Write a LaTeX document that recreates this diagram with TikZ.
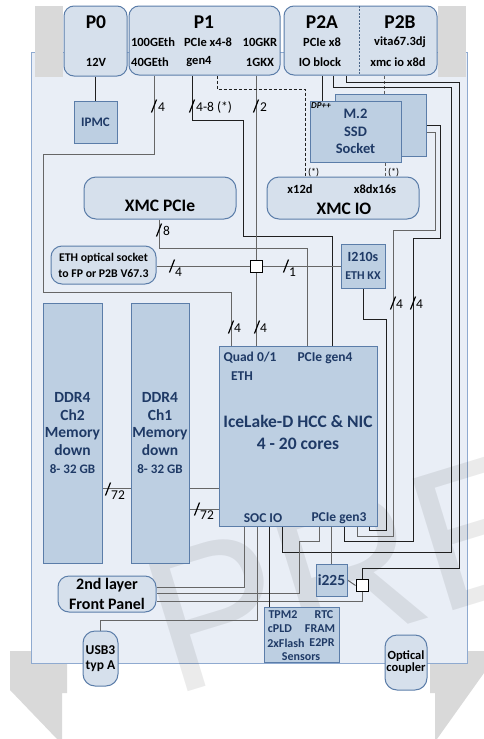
\documentclass[tikz,border=0pt]{standalone}
\usepackage{fontspec}
\setmainfont{Carlito}
\newfontfamily\wmfont{Liberation Sans}
\usetikzlibrary{calc,backgrounds}

\definecolor{boardfill}{HTML}{E9EEF6}
\definecolor{boardline}{HTML}{8FAAD0}
\definecolor{connfill}{HTML}{D6E0EC}
\definecolor{connline}{HTML}{5B7DA9}
\definecolor{chipfill}{HTML}{BDCFE2}
\definecolor{navy}{HTML}{1F3A66}
\definecolor{handle}{HTML}{D9D9D9}

\pgfdeclarelayer{wires}
\pgfsetlayers{background,wires,main}

\begin{document}
\begin{tikzpicture}[x=1pt, y=-1pt,
  conn/.style={draw=connline, fill=connfill, line width=1pt, rounded corners=10pt, inner sep=0pt},
  soft/.style={conn, rounded corners=12pt, align=center, font=\bfseries\fontsize{12}{14}\selectfont},
  chip/.style={draw=connline, fill=chipfill, line width=1pt, inner sep=0pt, text=navy, align=center, font=\bfseries\fontsize{13}{17.5}\selectfont},
  big/.style={inner sep=0pt, font=\bfseries\fontsize{19.5}{20}\selectfont},
  txt/.style={inner sep=0pt, font=\bfseries\fontsize{12.5}{14}\selectfont},
  ntxt/.style={txt, text=navy, font=\bfseries\fontsize{13.5}{14}\selectfont},
  tptxt/.style={txt, text=navy, font=\bfseries\fontsize{12}{13}\selectfont},
  lbl/.style={inner sep=0pt, font=\fontsize{13.5}{14}\selectfont},
  wire/.style={draw=black!88, line width=0.95pt},
  wireg/.style={draw=black!60, line width=0.95pt},
  dwire/.style={wire, dash pattern=on 3pt off 2pt},
  bus/.pic={\draw[line width=1.2pt] (-2.5,6.5) -- (2.5,-6.5);}
]
\useasboundingbox (0,0) rectangle (484,739);

% board and handles
\begin{scope}[on background layer]
  \fill[handle] (10,651) -- (67,651) -- (67,693) -- (62,693) -- (62,739) -- (57,739) -- (10,690) -- cycle;
  \fill[handle] (430,651) -- (484,651) -- (484,673) -- (437,739) -- (435,739) -- (435,693) -- (430,693) -- cycle;
  \node[draw=boardline, fill=boardfill, line width=1pt, minimum width=436pt, minimum height=611pt] (board) at (249,357.5) {};
  \fill[handle] (35,6) rectangle (63,77);
  \fill[handle] (438,6) rectangle (466,77);
\end{scope}

% watermark
\begin{pgfonlayer}{wires}
  \begin{scope}
    \clip (0,0) rectangle (484,739);
    \node[rotate=17, text=black, opacity=0.08, inner sep=0pt, anchor=base west, font=\wmfont\fontsize{200}{200}\selectfont] (wm) at (172,697) {PREVIEW};
  \end{scope}
\end{pgfonlayer}

% connectors P0 / P1 / P2
\node[conn, minimum width=63pt, minimum height=70pt] (p0) at (95.5,41) {};
\node[conn, minimum width=151pt, minimum height=69pt] (p1) at (204.5,40.5) {};
\node[conn, minimum width=153pt, minimum height=69pt] (p2) at (360.5,40.5) {};
\draw[connline!80!black, dash pattern=on 2pt off 1.5pt, line width=0.8pt] (p2.north -| 359,0) -- (p2.south -| 359,0);

\node[big] (p0t) at (96,22) {P0};
\node[txt] (p0v) at (96,62) {12V};
\node[big] (p1t) at (204,22) {P1};
\node[txt] (p1a) at (153,42) {100GEth};
\node[txt] (p1b) at (208,42) {PCIe x4-8};
\node[txt] (p1c) at (260,42) {10GKR};
\node[txt] (p1d) at (150,62) {40GEth};
\node[txt] (p1e) at (199,62) {gen4};
\node[txt] (p1f) at (260,62) {1GKX};
\node[big] (p2at) at (322,22) {P2A};
\node[txt] (p2a1) at (322,42) {PCIe x8};
\node[txt] (p2a2) at (320,62) {IO block};
\node[big] (p2bt) at (400,22) {P2B};
\node[txt] (p2b1) at (400,42) {vita67.3dj};
\node[txt] (p2b2) at (398,62) {xmc io x8d};

% blocks
\node[chip, minimum width=43pt, minimum height=42pt] (ipmc) at (95.5,122) {IPMC};
\node[soft, minimum width=152pt, minimum height=42pt] (xpci) at (160,198) {};
\node[txt, font=\bfseries\fontsize{17.5}{18}\selectfont] (xpcit) at (160,206) {XMC PCIe};
\node[soft, minimum width=152pt, minimum height=42pt] (xio) at (343,198) {};
\node[txt] (xio1) at (300,189) {x12d};
\node[txt] (xio2) at (375,189) {x8dx16s};
\node[txt, font=\bfseries\fontsize{17.5}{18}\selectfont] (xio3) at (344,209) {XMC IO};
\node[chip, minimum width=91pt, minimum height=62pt] (m2b) at (380.5,125) {};
\node[chip, minimum width=91pt, minimum height=61pt, font=\bfseries\fontsize{14.5}{17.5}\selectfont] (m2) at (355.5,131.5) {M.2\\SSD\\Socket};
\node[inner sep=0pt, font=\bfseries\itshape\fontsize{9}{10}\selectfont, anchor=north west] (dp) at (311,102) {DP++};
\node[soft, minimum width=105pt, minimum height=38pt, rounded corners=11pt, font=\bfseries\fontsize{11.8}{16}\selectfont] (eth) at (103.5,265) {ETH optical socket\\to FP or P2B V67.3};
\node[draw=black, fill=white, line width=1pt, minimum size=12pt, inner sep=0pt] (jn) at (256,266) {};
\node[chip, minimum width=44pt, minimum height=44pt, font=\bfseries\fontsize{14}{18}\selectfont] (i210) at (363,266) {I210s\\{\fontsize{12}{14}\selectfont ETH KX}};
\node[chip, minimum width=59pt, minimum height=260pt, font=\bfseries\fontsize{15.5}{17.7}\selectfont] (ddr2) at (72.5,433) {DDR4\\Ch2\\Memory\\down\\{\fontsize{13}{17.7}\selectfont 8- 32 GB}};
\node[chip, minimum width=58pt, minimum height=260pt, font=\bfseries\fontsize{15.5}{17.7}\selectfont] (ddr1) at (160,433) {DDR4\\Ch1\\Memory\\down\\{\fontsize{13}{17.7}\selectfont 8- 32 GB}};
\node[chip, minimum width=158pt, minimum height=180pt] (ice) at (298,436) {};
\node[ntxt] (iq) at (250,358) {Quad 0/1};
\node[ntxt] (ie) at (242,376) {ETH};
\node[ntxt] (ig4) at (325,358) {PCIe gen4};
\node[ntxt, font=\bfseries\fontsize{17.5}{21.5}\selectfont, align=center] (icl) at (298,432.5) {IceLake-D HCC \& NIC\\4 - 20 cores};
\node[ntxt] (isoc) at (263,518) {SOC IO};
\node[ntxt] (ig3) at (339,518) {PCIe gen3};
\node[soft, minimum width=98pt, minimum height=36pt, rounded corners=11pt, font=\bfseries\fontsize{16}{20}\selectfont] (fp) at (107,594) {2nd layer\\Front Panel};
\node[soft, minimum width=35pt, minimum height=55pt, font=\bfseries\fontsize{13.5}{15}\selectfont] (usb) at (100.5,658.5) {USB3\\typ A};
\node[chip, minimum width=31pt, minimum height=32pt, font=\bfseries\fontsize{15.5}{17}\selectfont] (i225) at (331.5,580) {i225};
\node[draw=black, fill=white, line width=1pt, minimum size=12pt, inner sep=0pt] (sq) at (362,585.5) {};
\node[chip, minimum width=75pt, minimum height=55pt] (tpm) at (301.5,634.5) {};
\node[tptxt] (tp1) at (283,615) {TPM2};
\node[tptxt] (tp2) at (324,615) {RTC};
\node[tptxt] (tp3) at (280,629) {cPLD};
\node[tptxt] (tp4) at (320,629) {FRAM};
\node[tptxt] (tp5) at (286,643) {2xFlash};
\node[tptxt] (tp6) at (322,643) {E2PR};
\node[tptxt] (tp7) at (301,657) {Sensors};
\node[soft, minimum width=42pt, minimum height=55pt, font=\bfseries\fontsize{12.5}{12}\selectfont] (opt) at (406,662.5) {Optical\\coupler};

% wires
\begin{pgfonlayer}{wires}
  \draw[wire] (p0.south) -- (ipmc.north);
  \draw[wireg] (154,0 |- p1.south) |- (43,154) |- (231,292) -- (231,0 |- ice.north);
  \draw[wire] (192,0 |- p1.south) |- (243,120) |- (332,236) -- (332,0 |- ice.north);
  \draw[wireg] (jn |- p1.south) -- (jn |- ice.north);
  \draw[dwire] (217,0 |- p1.south) |- (305,89) -- (305,0 |- xio.north);
  \draw[wireg] (159,0 |- xpci.south) |- (307,248) -- (307,0 |- ice.north);
  \draw[wireg] (eth.east |- jn) -- (i210.west |- jn);
  \draw[wire] (322,0 |- p2.south) -- (322,0 |- m2.north);
  \draw[dwire, draw=black!65] (384,0 |- p2.south) -- (384,0 |- m2b.north);
  \draw[dwire, draw=black!65] (385,0 |- m2.south) -- (385,0 |- xio.north);
  \draw[wire] (333,0 |- p2.south) |- (451,87) |- (282,552) -- (282,0 |- ice.south);
  \draw[wire] (346,0 |- p2.south) |- (459,82) |- (sq.north |- 0,568) -- (sq.north);
  \draw[wireg] (m2.east |- 0,132) -| (435,230) -| (393,536) -| (357,0 |- ice.south);
  \draw[wire] (m2b.east |- 0,125) -| (440,238) -| (413,541) -| (344,0 |- ice.south);
  \draw[wire] (i210.south) |- (386,319) |- (369,530) -- (369,0 |- ice.south);
  \draw[wireg] (fp.east |- 0,587) -| (244,0 |- ice.south);
  \draw[wireg] (319,0 |- ice.south) |- (299,541) |- (fp.east |- 0,593);
  \draw[wireg] (fp.east |- 0,601) -| (sq.south);
  \draw[wireg] (usb.north) |- (257,620) -- (257,0 |- ice.south);
  \draw[wire] (269,0 |- ice.south) -- (269,0 |- tpm.north);
  \draw[wireg] (i225.north) -- (i225.north |- ice.south);
  \draw[wireg] (i225.east) -- (sq.west);
  \draw[wireg] (ddr2.east |- 0,488) -- (ddr1.west |- 0,488);
  \draw[wireg] (ddr1.east |- 0,488) -- (ice.west |- 0,488);
  \draw[wireg] (ddr1.east |- 0,509) -- (ice.west |- 0,509);
\end{pgfonlayer}

% bus widths
\pic at (154,106) {bus};
\node[lbl, anchor=west] (b1) at (158,107) {4};
\pic at (192,106) {bus};
\node[lbl, anchor=west] (b2) at (196,107) {4-8 (*)};
\pic at (256,106) {bus};
\node[lbl, anchor=west] (b3) at (260,107) {2};
\pic at (159,230) {bus};
\node[lbl, anchor=west] (b4) at (163,231) {8};
\pic at (172,266) {bus};
\node[lbl, anchor=north west] (b5) at (175,268) {4};
\pic at (286,266) {bus};
\node[lbl, anchor=north west] (b6) at (289,268) {1};
\pic at (393,303) {bus};
\node[lbl, anchor=west] (b7) at (396,304) {4};
\pic at (413,303) {bus};
\node[lbl, anchor=west] (b8) at (416,304) {4};
\pic at (231,327) {bus};
\node[lbl, anchor=west] (b9) at (234,328) {4};
\pic at (257,327) {bus};
\node[lbl, anchor=west] (b10) at (260,328) {4};
\pic at (108,489) {bus};
\node[lbl, anchor=north west] (b11) at (111,491) {72};
\pic at (197,509) {bus};
\node[lbl, anchor=north west] (b12) at (200,511) {72};
\node[lbl, anchor=south west, font=\fontsize{10}{10}\selectfont] (s1) at (308,177) {(*)};
\node[lbl, anchor=south west, font=\fontsize{10}{10}\selectfont] (s2) at (388,177) {(*)};
\end{tikzpicture}
\end{document}
